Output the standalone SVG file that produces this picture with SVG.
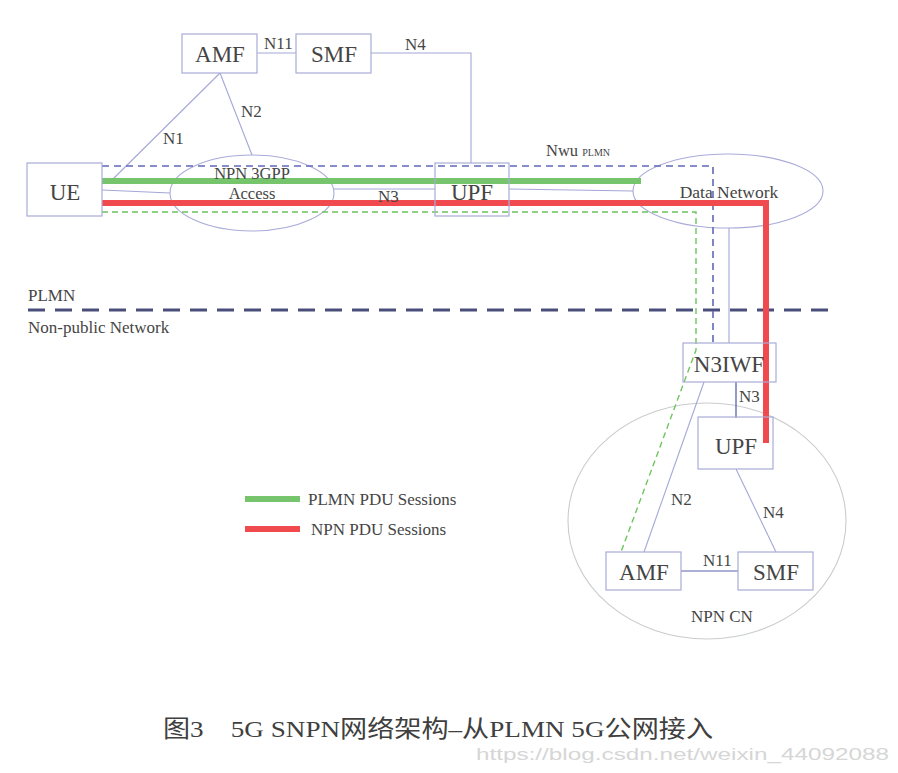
<svg xmlns="http://www.w3.org/2000/svg" width="898" height="773" viewBox="0 0 898 773">
<style>
.box{fill:#fff;stroke:#a9acd8;stroke-width:1.2}
.clear{fill-opacity:0}
.ln{fill:none;stroke:#a4a7d8;stroke-width:1.1}
.t{font-family:"Liberation Serif","Times New Roman",serif;fill:#454545}
.big{font-size:23px;text-anchor:middle}
.lbl{font-size:17px}
.mid{font-size:16.5px;text-anchor:middle}
</style>
<rect width="898" height="773" fill="#fff"/>
<g id="connectors">
<ellipse cx="252" cy="193" rx="82" ry="38" fill="none" stroke="#a9acd8" stroke-width="1.1"/>
<ellipse cx="728" cy="191" rx="95" ry="37" fill="none" stroke="#a9acd8" stroke-width="1.1"/>
<ellipse cx="707" cy="521" rx="139" ry="118" fill="none" stroke="#c9cccd" stroke-width="1.1"/>
<path class="ln" d="M257 53H296"/>
<path class="ln" d="M371 53H471V163"/>
<path class="ln" d="M220 73L112 180"/>
<path class="ln" d="M220 73L252 155"/>
<path class="ln" d="M102 190L170 193"/>
<path class="ln" d="M334 189H435"/>
<path class="ln" d="M509 189L633 191"/>
<path class="ln" d="M729 228V343"/>
<path d="M736 382V418" fill="none" stroke="#5a62b0" stroke-width="1.3"/>
<path class="ln" d="M704 382L644 552"/>
<path class="ln" d="M736 469L776 552"/>
<path d="M681 571H738" fill="none" stroke="#5a62b0" stroke-width="1.2"/>
<path d="M28 310H833" fill="none" stroke="#4a4e7a" stroke-width="3" stroke-dasharray="17 10"/>
<path d="M102 166H713V343" fill="none" stroke="#6068b8" stroke-width="1.6" stroke-dasharray="7 5"/>
<path d="M102 212H696V350L621 552" fill="none" stroke="#6cc45c" stroke-width="1.4" stroke-dasharray="6 4"/>
<path d="M102 181H641" fill="none" stroke="#76c46c" stroke-width="6"/>
<path d="M102 203H766V443" fill="none" stroke="#f04a4e" stroke-width="6"/>
</g>
<g id="UE"><rect class="box clear" x="27" y="163" width="75" height="53"/><text class="t big" x="65" y="200">UE</text></g>
<g id="AMF-PLMN"><rect class="box" x="182" y="34" width="75" height="39"/><text class="t big" x="220" y="62">AMF</text></g>
<g id="SMF-PLMN"><rect class="box" x="296" y="34" width="75" height="39"/><text class="t big" x="334" y="62">SMF</text></g>
<g id="NPN-3GPP-Access"><text class="t mid" x="252" y="179">NPN 3GPP</text><text class="t mid" x="252" y="199">Access</text></g>
<g id="UPF-PLMN"><rect class="box clear" x="435" y="163" width="74" height="53"/><text class="t big" x="472" y="200">UPF</text></g>
<g id="Data-Network"><text class="t" x="729" y="198" font-size="17.5" text-anchor="middle">Data Network</text></g>
<g id="N3IWF"><rect class="box clear" x="683" y="343" width="93" height="39"/><text class="t big" x="729" y="372">N3IWF</text></g>
<g id="UPF-NPN"><rect class="box clear" x="698" y="417" width="75" height="52"/><text class="t big" x="736" y="454">UPF</text></g>
<g id="AMF-NPN"><rect class="box" x="606" y="552" width="75" height="38"/><text class="t big" x="644" y="580">AMF</text></g>
<g id="SMF-NPN"><rect class="box" x="738" y="552" width="75" height="38"/><text class="t big" x="776" y="580">SMF</text></g>
<g id="labels">
<text class="t lbl" x="264" y="49">N11</text>
<text class="t lbl" x="405" y="50">N4</text>
<text class="t lbl" x="163" y="144">N1</text>
<text class="t lbl" x="241" y="117">N2</text>
<text class="t lbl" x="378" y="202">N3</text>
<text class="t" x="546" y="156" font-size="16.5">Nwu <tspan font-size="10">PLMN</tspan></text>
<text class="t lbl" x="739" y="402">N3</text>
<text class="t lbl" x="671" y="505">N2</text>
<text class="t lbl" x="763" y="518">N4</text>
<text class="t lbl" x="703" y="566">N11</text>
<text class="t lbl" x="691" y="622">NPN CN</text>
<text class="t lbl" x="28" y="301">PLMN</text>
<text class="t lbl" x="28" y="333">Non-public Network</text>
</g>
<g id="legend">
<path d="M245 499H300" stroke="#76c46c" stroke-width="6"/>
<path d="M245 529H300" stroke="#f04a4e" stroke-width="6"/>
<text class="t lbl" x="308" y="505">PLMN PDU Sessions</text>
<text class="t lbl" x="311" y="535">NPN PDU Sessions</text>
</g>
<text x="163" y="737" font-family="'Liberation Serif','Noto Sans CJK SC',serif" font-size="24" fill="#404040" textLength="550" lengthAdjust="spacingAndGlyphs" xml:space="preserve">图3    5G SNPN网络架构–从PLMN 5G公网接入</text>
<text x="476" y="760" font-family="'Liberation Sans Narrow','Liberation Sans',Arial,sans-serif" font-size="17" fill="#d6d6d6" textLength="413" lengthAdjust="spacingAndGlyphs">https://blog.csdn.net/weixin_44092088</text>
</svg>
